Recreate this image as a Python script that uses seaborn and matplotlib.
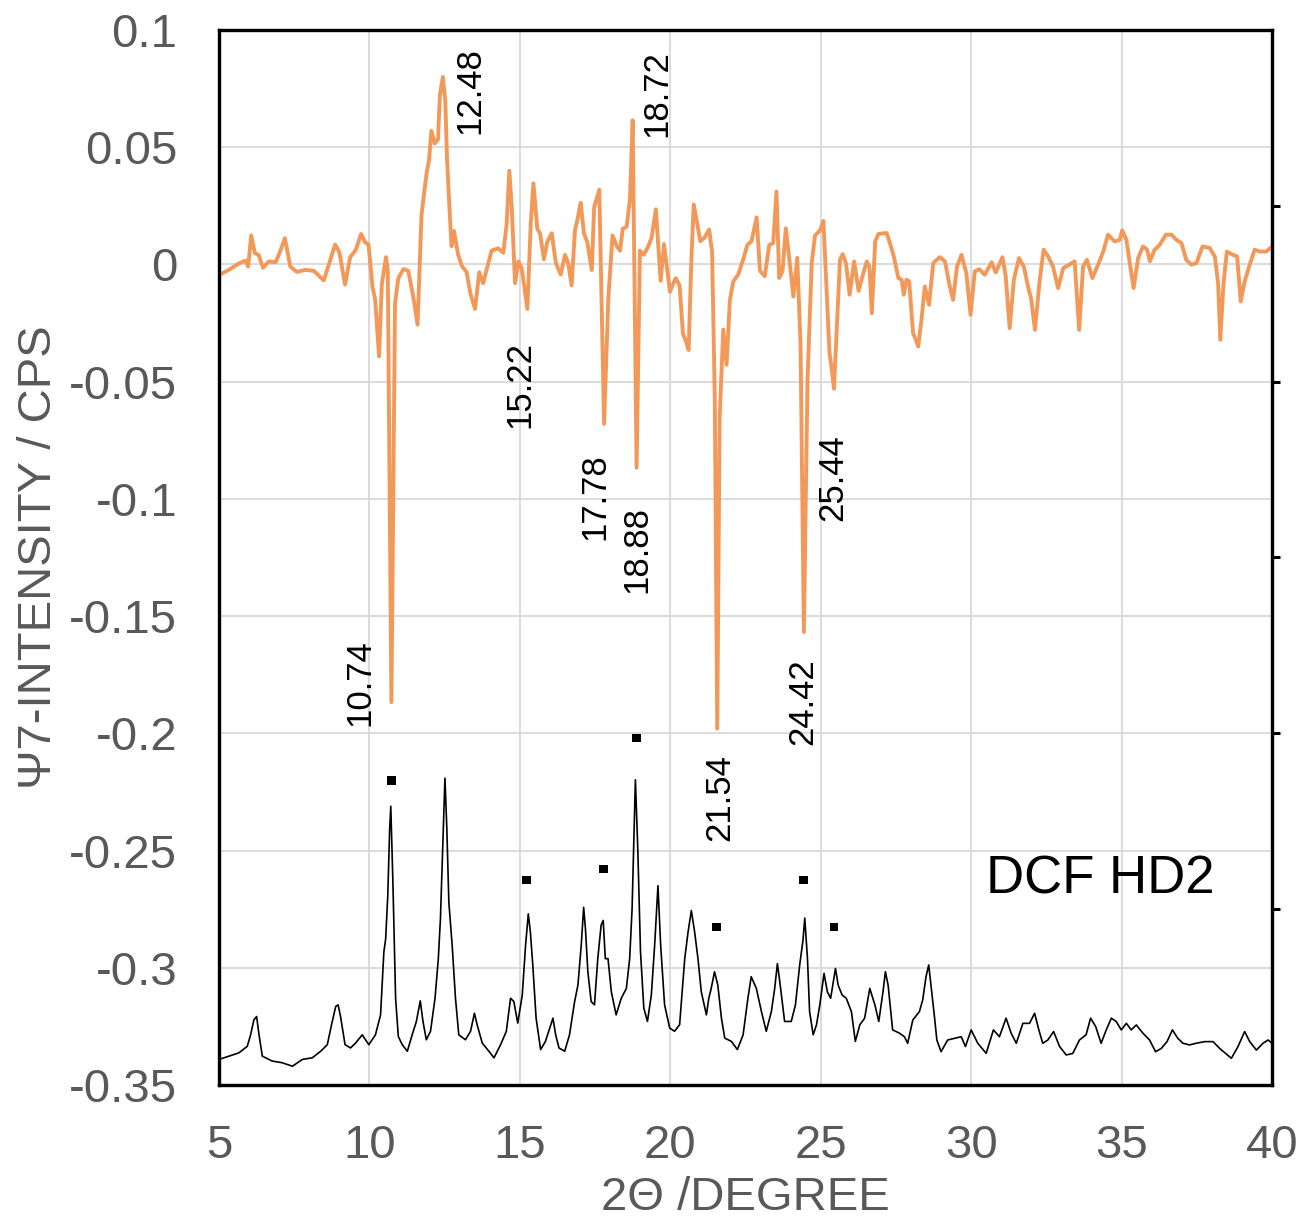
import numpy as np
import pandas as pd
import matplotlib
matplotlib.use("Agg")
import matplotlib.pyplot as plt
import seaborn as sns

# ---------------- data ----------------
psi_x = [5.00, 5.33, 5.66, 5.88, 5.97, 6.07, 6.19, 6.32, 6.46, 6.66, 6.88, 7.04, 7.19, 7.37,
         7.59, 7.87, 8.15, 8.48, 8.64, 8.86, 9.00, 9.19, 9.36, 9.55, 9.72, 9.86, 9.97, 10.10,
         10.19, 10.32, 10.41, 10.55, 10.61, 10.73, 10.85, 10.96, 11.13, 11.29, 11.46, 11.60,
         11.73, 11.90, 11.98, 12.06, 12.17, 12.28, 12.34, 12.44, 12.52, 12.58, 12.66, 12.73,
         12.81, 12.95, 13.07, 13.23, 13.36, 13.51, 13.65, 13.78, 13.95, 14.06, 14.28, 14.45,
         14.56, 14.65, 14.73, 14.84, 14.95, 15.06, 15.25, 15.36, 15.45, 15.58, 15.67, 15.80,
         15.91, 16.06, 16.20, 16.36, 16.50, 16.61, 16.72, 16.83, 16.94, 17.02, 17.13, 17.24,
         17.39, 17.47, 17.64, 17.80, 17.94, 18.08, 18.22, 18.33, 18.42, 18.55, 18.66, 18.75,
         18.88, 18.99, 19.12, 19.27, 19.38, 19.52, 19.68, 19.79, 19.99, 20.07, 20.18, 20.31,
         20.42, 20.51, 20.61, 20.70, 20.78, 20.89, 21.00, 21.14, 21.29, 21.39, 21.48, 21.56,
         21.64, 21.76, 21.87, 21.98, 22.09, 22.26, 22.42, 22.56, 22.70, 22.87, 22.98, 23.14,
         23.29, 23.42, 23.53, 23.62, 23.73, 23.84, 24.00, 24.09, 24.22, 24.33, 24.44, 24.56,
         24.70, 24.81, 24.98, 25.09, 25.20, 25.29, 25.37, 25.44, 25.53, 25.64, 25.73, 25.84,
         25.96, 26.11, 26.26, 26.37, 26.53, 26.62, 26.70, 26.81, 26.92, 27.19, 27.30, 27.43,
         27.58, 27.69, 27.76, 27.85, 27.94, 28.07, 28.16, 28.24, 28.35, 28.46, 28.60, 28.74,
         28.96, 29.13, 29.29, 29.40, 29.53, 29.68, 29.84, 29.98, 30.12, 30.27, 30.45, 30.68,
         30.82, 31.04, 31.15, 31.28, 31.42, 31.59, 31.75, 31.89, 32.00, 32.12, 32.28, 32.41,
         32.56, 32.72, 32.89, 33.06, 33.26, 33.44, 33.59, 33.72, 33.85, 34.03, 34.22, 34.39,
         34.55, 34.77, 34.94, 35.02, 35.16, 35.29, 35.40, 35.55, 35.71, 35.85, 35.94, 36.10,
         36.27, 36.47, 36.66, 36.82, 36.99, 37.15, 37.32, 37.49, 37.69, 37.93, 38.10, 38.21,
         38.28, 38.39, 38.50, 38.70, 38.84, 38.96, 39.09, 39.24, 39.42, 39.59, 39.81, 40.00]
psi_y = [-0.0045, -0.0023, 0.0004, 0.0016, -0.0009, 0.0124, 0.0049, 0.0040, -0.0014, 0.0013,
         0.0009, 0.0058, 0.0112, -0.0009, -0.0032, -0.0023, -0.0027, -0.0068, -0.0005, 0.0085,
         0.0052, -0.0086, 0.0031, 0.0063, 0.0130, 0.0094, 0.0085, -0.0095, -0.0149, -0.0392,
         -0.0086, 0.0031, -0.0023, -0.1867, -0.0167, -0.0059, -0.0020, -0.0027, -0.0140, -0.0257,
         0.0210, 0.0390, 0.0444, 0.0570, 0.0516, 0.0534, 0.0720, 0.0800, 0.0700, 0.0450,
         0.0240, 0.0078, 0.0143, 0.0041, -0.0006, -0.0033, -0.0126, -0.0190, -0.0033, -0.0080,
         0.0004, 0.0059, 0.0069, 0.0050, 0.0170, 0.0400, 0.0244, -0.0080, 0.0013, -0.0015,
         -0.0190, 0.0170, 0.0346, 0.0152, 0.0133, 0.0022, 0.0096, 0.0133, 0.0004, -0.0043,
         0.0041, 0.0004, -0.0089, 0.0143, 0.0207, 0.0263, 0.0133, 0.0096, -0.0024, 0.0244,
         0.0319, -0.0680, -0.0144, 0.0124, 0.0078, 0.0059, 0.0152, 0.0161, 0.0280, 0.0615,
         -0.0867, 0.0059, 0.0041, 0.0078, 0.0115, 0.0235, -0.0070, 0.0087, -0.0117, -0.0090,
         -0.0058, -0.0090, -0.0294, -0.0325, -0.0365, 0.0020, 0.0256, 0.0178, 0.0099, 0.0115,
         0.0149, 0.0052, -0.0577, -0.1980, -0.0656, -0.0278, -0.0428, -0.0153, -0.0074, -0.0042,
         0.0020, 0.0083, 0.0099, 0.0201, -0.0027, -0.0050, 0.0083, 0.0091, 0.0311, -0.0058,
         -0.0027, 0.0154, -0.0027, -0.0137, 0.0028, -0.0341, -0.1568, -0.0498, 0.0005, 0.0123,
         0.0146, 0.0186, -0.0121, -0.0373, -0.0451, -0.0530, -0.0278, 0.0020, 0.0044, 0.0005,
         -0.0129, 0.0013, -0.0113, -0.0058, 0.0013, -0.0011, -0.0208, 0.0099, 0.0130, 0.0134,
         0.0091, 0.0034, -0.0058, -0.0065, -0.0129, -0.0065, -0.0072, -0.0293, -0.0321, -0.0350,
         -0.0236, -0.0094, -0.0172, 0.0006, 0.0031, 0.0013, -0.0094, -0.0151, -0.0009, 0.0041,
         -0.0037, -0.0215, -0.0030, -0.0020, -0.0044, 0.0009, -0.0034, 0.0031, -0.0051, -0.0272,
         -0.0065, 0.0027, -0.0009, -0.0094, -0.0151, -0.0279, -0.0065, 0.0063, 0.0034, -0.0009,
         -0.0101, -0.0016, -0.0001, 0.0013, -0.0279, -0.0009, 0.0020, -0.0058, -0.0001, 0.0055,
         0.0127, 0.0098, 0.0105, 0.0145, 0.0105, -0.0009, -0.0101, 0.0027, 0.0077, 0.0063,
         0.0013, 0.0063, 0.0084, 0.0127, 0.0127, 0.0105, 0.0091, 0.0020, -0.0001, 0.0006,
         0.0077, 0.0070, 0.0034, -0.0080, -0.0321, -0.0080, 0.0055, 0.0041, 0.0034, -0.0158,
         -0.0073, -0.0009, 0.0063, 0.0055, 0.0055, 0.0077]

xrd_x = [5.00, 5.33, 5.66, 5.94, 6.05, 6.16, 6.25, 6.33, 6.44, 6.77, 7.10, 7.44, 7.77, 8.10,
         8.38, 8.60, 8.74, 8.88, 8.96, 9.04, 9.19, 9.37, 9.54, 9.76, 9.98, 10.20, 10.37, 10.48,
         10.54, 10.61, 10.67, 10.71, 10.78, 10.87, 10.96, 11.09, 11.26, 11.42, 11.56, 11.69,
         11.78, 11.89, 12.03, 12.18, 12.29, 12.36, 12.44, 12.51, 12.57, 12.64, 12.75, 12.86,
         12.97, 13.19, 13.36, 13.49, 13.58, 13.75, 13.97, 14.14, 14.36, 14.55, 14.69, 14.80,
         14.93, 15.08, 15.19, 15.28, 15.35, 15.43, 15.54, 15.69, 15.85, 15.96, 16.10, 16.19,
         16.30, 16.49, 16.65, 16.82, 16.93, 17.04, 17.12, 17.18, 17.26, 17.37, 17.48, 17.59,
         17.70, 17.77, 17.84, 17.93, 18.04, 18.20, 18.37, 18.54, 18.65, 18.73, 18.84, 18.92,
         19.01, 19.12, 19.24, 19.37, 19.48, 19.59, 19.68, 19.81, 19.98, 20.14, 20.31, 20.48,
         20.59, 20.70, 20.81, 20.92, 21.03, 21.20, 21.28, 21.36, 21.47, 21.58, 21.70, 21.81,
         22.03, 22.23, 22.42, 22.58, 22.69, 22.86, 23.03, 23.19, 23.36, 23.47, 23.56, 23.64,
         23.80, 24.02, 24.16, 24.30, 24.41, 24.47, 24.56, 24.63, 24.75, 24.86, 24.97, 25.11,
         25.22, 25.33, 25.49, 25.58, 25.71, 25.85, 26.02, 26.15, 26.30, 26.46, 26.63, 26.80,
         26.93, 27.07, 27.15, 27.24, 27.39, 27.62, 27.78, 27.89, 28.06, 28.28, 28.39, 28.50,
         28.59, 28.67, 28.78, 28.86, 29.00, 29.22, 29.45, 29.67, 29.81, 30.00, 30.22, 30.50,
         30.74, 30.94, 31.16, 31.33, 31.50, 31.72, 31.94, 32.11, 32.25, 32.38, 32.55, 32.74,
         32.94, 33.16, 33.38, 33.60, 33.82, 33.97, 34.14, 34.32, 34.49, 34.66, 34.82, 34.99,
         35.16, 35.32, 35.49, 35.71, 35.93, 36.13, 36.32, 36.51, 36.69, 36.87, 37.04, 37.26,
         37.48, 37.76, 38.04, 38.26, 38.65, 38.87, 39.09, 39.26, 39.48, 39.70, 39.87, 40.00]
xrd_y = [-0.3391, -0.3377, -0.3363, -0.3335, -0.3286, -0.3222, -0.3208, -0.3286, -0.3377, -0.3398,
         -0.3405, -0.3420, -0.3391, -0.3384, -0.3356, -0.3328, -0.3243, -0.3165, -0.3158, -0.3208,
         -0.3328, -0.3342, -0.3321, -0.3286, -0.3328, -0.3286, -0.3201, -0.2932, -0.2876, -0.2692,
         -0.2417, -0.2311, -0.2636, -0.3130, -0.3293, -0.3328, -0.3356, -0.3286, -0.3229, -0.3141,
         -0.3229, -0.3307, -0.3271, -0.3130, -0.2961, -0.2791, -0.2466, -0.2191, -0.2396, -0.2721,
         -0.2904, -0.3130, -0.3286, -0.3307, -0.3271, -0.3194, -0.3243, -0.3321, -0.3356, -0.3384,
         -0.3328, -0.3271, -0.3130, -0.3144, -0.3236, -0.3116, -0.2904, -0.2770, -0.2848, -0.2989,
         -0.3215, -0.3349, -0.3314, -0.3271, -0.3215, -0.3286, -0.3342, -0.3356, -0.3286, -0.3144,
         -0.3074, -0.2904, -0.2742, -0.2834, -0.3017, -0.3144, -0.3158, -0.2961, -0.2819, -0.2798,
         -0.2961, -0.2961, -0.3102, -0.3201, -0.3130, -0.3088, -0.2961, -0.2749, -0.2198, -0.2495,
         -0.2932, -0.3172, -0.3229, -0.3116, -0.2904, -0.2650, -0.2904, -0.3158, -0.3257, -0.3271,
         -0.3243, -0.2961, -0.2848, -0.2756, -0.2848, -0.2961, -0.3102, -0.3201, -0.3130, -0.3088,
         -0.3017, -0.3074, -0.3215, -0.3300, -0.3314, -0.3349, -0.3286, -0.3130, -0.3038, -0.3088,
         -0.3187, -0.3271, -0.3187, -0.3088, -0.2982, -0.3060, -0.3229, -0.3229, -0.3158, -0.2989,
         -0.2883, -0.2788, -0.2961, -0.3187, -0.3286, -0.3243, -0.3158, -0.3024, -0.3102, -0.3130,
         -0.3003, -0.3074, -0.3116, -0.3130, -0.3187, -0.3314, -0.3243, -0.3215, -0.3088, -0.3158,
         -0.3229, -0.3102, -0.3017, -0.3074, -0.3265, -0.3279, -0.3294, -0.3322, -0.3223, -0.3187,
         -0.3137, -0.3038, -0.2988, -0.3080, -0.3208, -0.3308, -0.3358, -0.3308, -0.3301, -0.3294,
         -0.3336, -0.3265, -0.3322, -0.3365, -0.3265, -0.3294, -0.3215, -0.3279, -0.3322, -0.3237,
         -0.3237, -0.3194, -0.3265, -0.3322, -0.3308, -0.3272, -0.3336, -0.3372, -0.3365, -0.3308,
         -0.3286, -0.3215, -0.3251, -0.3322, -0.3265, -0.3215, -0.3229, -0.3265, -0.3237, -0.3265,
         -0.3244, -0.3279, -0.3308, -0.3358, -0.3344, -0.3315, -0.3265, -0.3301, -0.3322, -0.3329,
         -0.3322, -0.3315, -0.3315, -0.3344, -0.3386, -0.3336, -0.3272, -0.3315, -0.3351, -0.3322,
         -0.3308, -0.3322]

marker_x = [10.74, 15.22, 17.78, 18.88, 21.54, 24.42, 25.44]
marker_y = [-0.220, -0.2626, -0.2579, -0.2020, -0.2826, -0.2626, -0.2826]

peak_labels = ["12.48", "18.72", "15.22", "17.78", "18.88", "25.44", "10.74", "24.42", "21.54"]
label_x = [13.34, 19.56, 15.00, 17.50, 18.89, 25.41, 9.69, 24.41, 21.65]
label_y = [0.074, 0.073, -0.0514, -0.0992, -0.1218, -0.0911, -0.1785, -0.1866, -0.2276]

x_ticks = [5, 10, 15, 20, 25, 30, 35, 40]
y_ticks = [-0.35, -0.3, -0.25, -0.2, -0.15, -0.1, -0.05, 0, 0.05, 0.1]
y_tick_labels = ["-0.35", "-0.3", "-0.25", "-0.2", "-0.15", "-0.1", "-0.05", "0", "0.05", "0.1"]

x_title = "2Θ /DEGREE"
y_title = "Ψ7-INTENSITY / CPS"
sample_name = "DCF HD2"

# ---------------- style ----------------
sns.set_style("white")
plt.rcParams["font.family"] = ["Liberation Sans", "DejaVu Sans"]
plt.rcParams["axes.unicode_minus"] = False

ORANGE = "#F2995A"
GRAY = "#595959"
GRID = "#D9D9D9"

fig = plt.figure(figsize=(13.06, 12.28), dpi=100)
ax = fig.add_axes([0.16769, 0.11645, 0.80628, 0.85912])

psi_df = pd.DataFrame({"x": psi_x, "y": psi_y})
xrd_df = pd.DataFrame({"x": xrd_x, "y": xrd_y})
mk_df = pd.DataFrame({"x": marker_x, "y": marker_y})

sns.lineplot(data=xrd_df, x="x", y="y", ax=ax, color="black", linewidth=1.2,
             estimator=None, sort=False, legend=False, zorder=3)
sns.lineplot(data=psi_df, x="x", y="y", ax=ax, color=ORANGE, linewidth=2.8,
             estimator=None, sort=False, legend=False, zorder=4)
sns.scatterplot(data=mk_df, x="x", y="y", ax=ax, color="black", marker="s", s=40,
                edgecolor="none", legend=False, zorder=5)

for t, lx, ly in zip(peak_labels, label_x, label_y):
    ax.text(lx, ly, t, rotation=90, ha="center", va="center", fontsize=25, color="black", zorder=6)

ax.text(34.28, -0.2625, sample_name, ha="center", va="center", fontsize=38, color="black", zorder=6)

ax.set_xlim(5, 40)
ax.set_ylim(-0.35, 0.1)
ax.set_xticks(x_ticks)
ax.set_xticklabels([str(v) for v in x_ticks])
ax.set_yticks(y_ticks)
ax.set_yticklabels(y_tick_labels)
ax.grid(True, color=GRID, linewidth=1.3, zorder=0)
ax.set_axisbelow(True)
ax.tick_params(axis="both", length=0, labelsize=34, labelcolor=GRAY)
ax.tick_params(axis="y", pad=30)
ax.tick_params(axis="x", pad=28)
ax.set_xlabel(x_title, fontsize=34, color=GRAY, labelpad=6)
ax.set_ylabel(y_title, fontsize=34, color=GRAY, labelpad=6)
for s in ax.spines.values():
    s.set_color("black")
    s.set_linewidth(2.3)

ax2 = ax.twinx()
ax2.set_ylim(0, 6)
ax2.set_yticks([1, 2, 3, 4, 5])
ax2.set_yticklabels([])
ax2.tick_params(axis="y", length=6, width=2.2, color="black", direction="out")
for s in ax2.spines.values():
    s.set_color("black")
    s.set_linewidth(2.3)

fig.savefig("out.png", dpi=100)
